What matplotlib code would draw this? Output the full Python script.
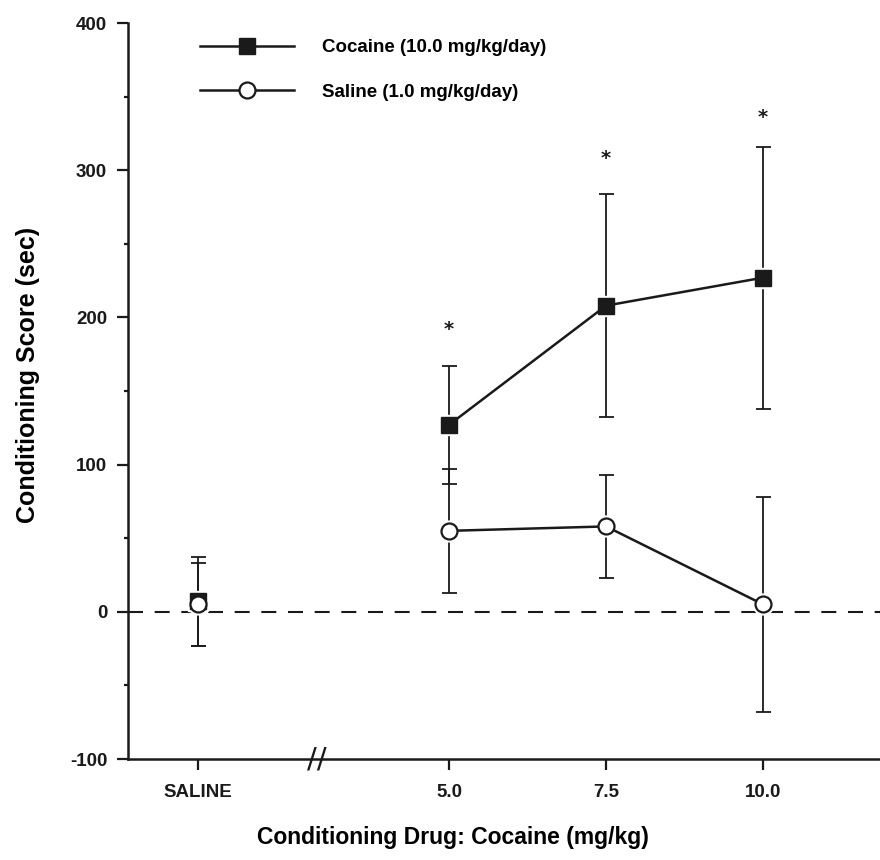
import matplotlib
matplotlib.use('Agg')
import matplotlib.pyplot as plt
import matplotlib.transforms as mtransforms

plt.rcParams['font.family'] = ['Liberation Sans', 'DejaVu Sans']
plt.rcParams['font.weight'] = 'bold'
plt.rcParams['axes.unicode_minus'] = False

# Data (x = dose, saline drawn at x = 1)
x_pos = [1.0, 5.0, 7.5, 10.0]
x_labels = ['SALINE', '5.0', '7.5', '10.0']

cocaine_mean = [7, 127, 208, 227]
cocaine_sem = [30, 40, 76, 89]

saline_mean = [5, 55, 58, 5]
saline_sem = [28, 42, 35, 73]

# significance stars (x, y)
star_x = [5.0, 7.5, 10.0]
star_y = [192, 308, 336]

break_x = 2.9

fig = plt.figure(figsize=(8.8, 8.6), dpi=100)
ax = fig.add_axes([128 / 880, 101 / 860, 752 / 880, 736 / 860])

# error bars first
ax.errorbar(x_pos, cocaine_mean, yerr=cocaine_sem, fmt='none', ecolor='#1a1a1a',
            elinewidth=1.3, capsize=5.4, capthick=1.3, zorder=2)
ax.errorbar(x_pos, saline_mean, yerr=saline_sem, fmt='none', ecolor='#1a1a1a',
            elinewidth=1.3, capsize=5.4, capthick=1.3, zorder=2)

# white halo so bars stop short of the markers
ax.plot(x_pos, cocaine_mean, 's', ms=14.5, color='white', mec='white', zorder=3)
ax.plot(x_pos, saline_mean, 'o', ms=15, color='white', mec='white', zorder=3)

# lines only connect the cocaine doses, saline point stands alone
ax.plot(x_pos[1:], cocaine_mean[1:], '-', color='#1a1a1a', lw=1.8, zorder=4)
ax.plot(x_pos[1:], saline_mean[1:], '-', color='#1a1a1a', lw=1.8, zorder=4)
ax.plot(x_pos, cocaine_mean, 's', ms=11.3, color='#1a1a1a', mec='#1a1a1a', zorder=5)
ax.plot(x_pos, saline_mean, 'o', ms=11.5, mfc='white', mec='#1a1a1a', mew=1.6, zorder=6)

ax.axhline(0, color='#1a1a1a', lw=1.5, ls=(0, (7.2, 5.6)), zorder=1)

for sx, sy in zip(star_x, star_y):
    ax.text(sx, sy, '*', ha='center', va='center', fontsize=14, fontweight='bold',
            color='#1a1a1a', family=['DejaVu Sans'])

# legend
h1, = ax.plot([], [], '-s', color='#1a1a1a', ms=11.3, lw=1.8)
h2, = ax.plot([], [], '-o', color='#1a1a1a', mfc='white', ms=11.5, mew=1.6, lw=1.8)
ax.legend([h1, h2], ['Cocaine (10.0 mg/kg/day)', 'Saline (1.0 mg/kg/day)'],
          loc='upper left', bbox_to_anchor=(0.096, 0.978), frameon=False,
          handlelength=5.0, handletextpad=1.5, labelspacing=1.45,
          borderpad=0, borderaxespad=0, prop={'size': 13.5, 'weight': 'bold'})

ax.set_xlim(-0.11, 11.86)
ax.set_ylim(-100, 400)
ax.set_yticks([-100, 0, 100, 200, 300, 400])
ax.set_yticks(range(-50, 400, 100), minor=True)
ax.set_xticks(x_pos)
ax.set_xticklabels(x_labels)

for s in ['top', 'right']:
    ax.spines[s].set_visible(False)
for s in ['left', 'bottom']:
    ax.spines[s].set_linewidth(1.8)
    ax.spines[s].set_color('#1a1a1a')

ax.tick_params(axis='both', which='major', length=8, width=1.6, colors='#1a1a1a',
               labelsize=13.5, pad=7)
ax.tick_params(axis='y', which='minor', length=3, width=1.6, colors='#1a1a1a')
ax.tick_params(axis='x', which='major', pad=10)

ax.set_ylabel('Conditioning Score (sec)', fontsize=18, fontweight='bold')
ax.set_xlabel('Conditioning Drug: Cocaine (mg/kg)', fontsize=16.5, fontweight='bold')
ax.yaxis.set_label_coords(-0.133, 0.522)
ax.xaxis.set_label_coords(0.432, -0.107)
ax.xaxis.label.set_va('center')
ax.yaxis.label.set_va('center')

# axis break mark on the x axis
trans = mtransforms.blended_transform_factory(ax.transData, ax.transAxes)
ax.text(break_x, 0, '//', transform=trans, ha='center', va='center', fontsize=21,
        fontweight='normal', color='#1a1a1a', family=['DejaVu Sans'])

fig.savefig('out.png', dpi=100)
